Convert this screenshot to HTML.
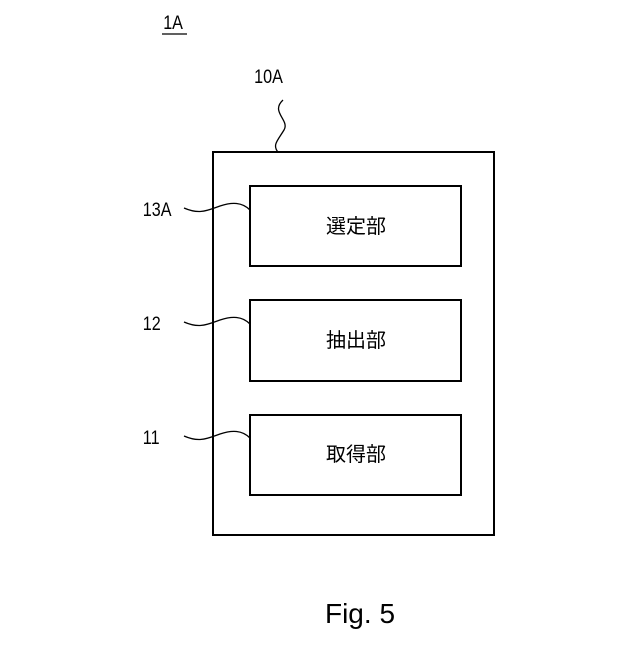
<!DOCTYPE html>
<html><head><style>
body{margin:0;background:#fff}
svg text{font-family:"Liberation Sans","Noto Sans CJK JP",sans-serif;fill:#000}
</style></head><body>
<svg width="640" height="640" viewBox="0 0 640 640" xmlns="http://www.w3.org/2000/svg">
<g fill="none" stroke="#000" stroke-width="2">
<rect x="213" y="152" width="281" height="383"/>
<rect x="250" y="186" width="211" height="80"/>
<rect x="250" y="300" width="211" height="81"/>
<rect x="250" y="415" width="211" height="80"/>
</g>
<g fill="none" stroke="#000" stroke-width="1.3">
<path d="M283 100 C270 112 290 120 284 130 C278 140 272 145 278 152"/>
<path d="M184 208 C200 215 208 210 220 206 C232 202 242 202 250 210"/>
<path d="M184 322 C200 329 208 324 220 320 C232 316 242 316 250 324"/>
<path d="M184 436 C200 443 208 438 220 434 C232 430 242 430 250 438"/>
<line x1="162" y1="34" x2="187" y2="34"/>
</g>
<g font-size="19" transform="scale(0.85,1)">
<text x="192" y="29">1A</text>
<text x="299" y="83">10A</text>
<text x="168" y="216">13A</text>
<text x="168" y="330">12</text>
<text x="168" y="444">11</text>
</g>
<g font-size="20" text-anchor="middle">
<text x="356" y="233">選定部</text>
<text x="356" y="347">抽出部</text>
<text x="356" y="461">取得部</text>
</g>
<text x="360" y="623" font-size="28" text-anchor="middle" font-family="Liberation Mono,monospace">Fig. 5</text>
</svg>
</body></html>
